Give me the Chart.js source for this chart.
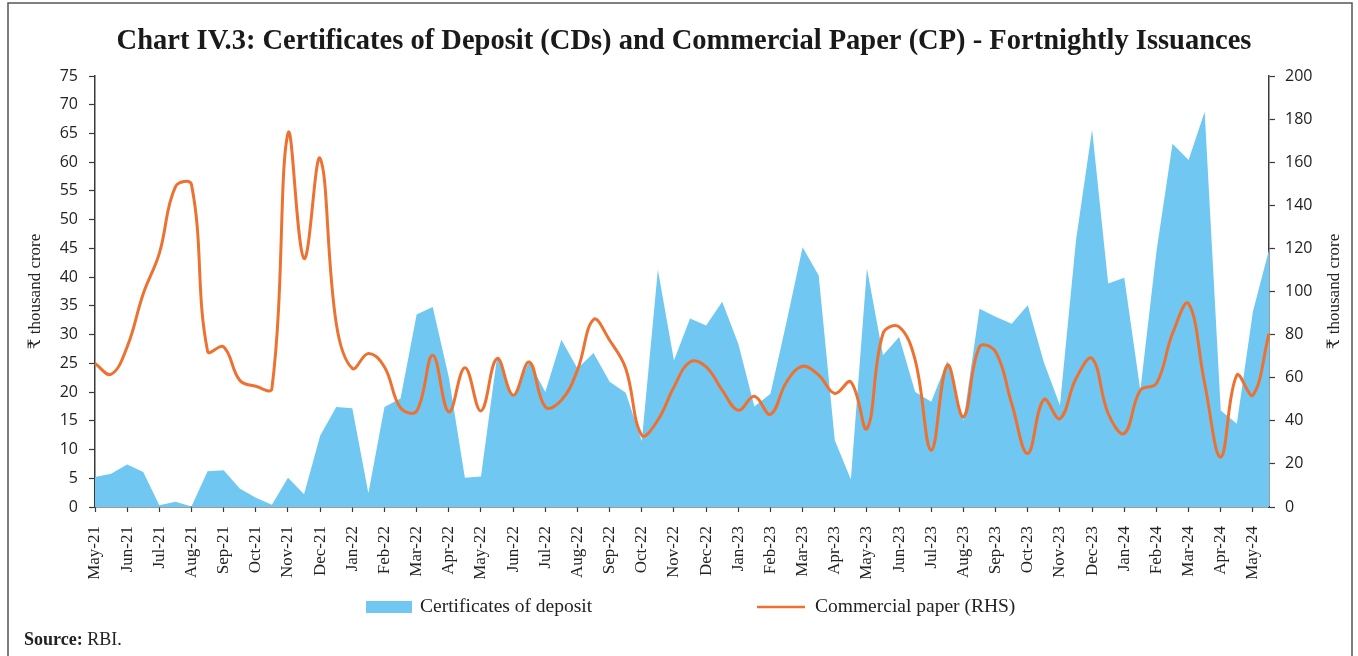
<!DOCTYPE html>
<html>
<head>
<meta charset="utf-8">
<script src="https://cdn.jsdelivr.net/npm/chart.js@4.4.1/dist/chart.umd.min.js"></script>
<style>
  html, body { margin: 0; padding: 0; background: #fff; overflow: hidden; }
  canvas { display: block; }
</style>
</head>
<body>
<canvas id="cdcp" width="1358" height="656"></canvas>
<script>
const monthTicks = ['May-21', 'Jun-21', 'Jul-21', 'Aug-21', 'Sep-21', 'Oct-21', 'Nov-21', 'Dec-21',
  'Jan-22', 'Feb-22', 'Mar-22', 'Apr-22', 'May-22', 'Jun-22', 'Jul-22', 'Aug-22', 'Sep-22', 'Oct-22',
  'Nov-22', 'Dec-22', 'Jan-23', 'Feb-23', 'Mar-23', 'Apr-23', 'May-23', 'Jun-23', 'Jul-23', 'Aug-23',
  'Sep-23', 'Oct-23', 'Nov-23', 'Dec-23', 'Jan-24', 'Feb-24', 'Mar-24', 'Apr-24', 'May-24'];

// two fortnights per month, month label goes on the first one
const fortnights = monthTicks.flatMap(m => [m, m + ' (2)']);

// ₹ thousand crore, left axis
const certificatesOfDeposit = [
  5.2, 5.8, 7.4, 6.1, 0.3, 0.9, 0.1, 6.2, 6.4, 3.2, 1.6, 0.4, 5.1, 2.2, 12.4, 17.4, 17.2, 2.4, 17.4,
  18.9, 33.5, 34.8, 22.6, 5.1, 5.3, 26.1, 19.2, 25.3, 20.0, 29.1, 24.1, 26.8, 21.8, 19.9, 11.5, 41.3, 25.5,
  32.8, 31.6, 35.7, 28.4, 17.5, 19.7, 32.2, 45.2, 40.3, 11.6, 4.8, 41.5, 26.4, 29.6, 20.0, 18.3, 25.4, 15.0,
  34.5, 33.1, 31.9, 35.1, 25.2, 17.7, 46.4, 65.7, 38.9, 39.9, 20.3, 44.4, 63.2, 60.4, 68.8, 16.8, 14.5, 34.0, 44.7
];

// ₹ thousand crore, right axis
const commercialPaper = [
  66.6, 61.6, 74.3, 99.0, 117.7, 148.6, 149.6, 72.3, 74.3, 58.8, 56.0, 55.0, 173.4, 115.3, 161.8, 85.2, 64.3, 71.2, 65.0,
  46.0, 44.5, 70.4, 44.1, 64.6, 44.6, 68.9, 51.9, 67.3, 46.4, 49.5, 63.5, 87.0, 77.4, 64.3, 33.3, 40.3, 55.7,
  67.3, 65.0, 54.2, 44.9, 51.4, 43.0, 58.0, 65.3, 61.2, 52.7, 58.0, 36.4, 80.5, 83.6, 68.1, 26.3, 65.8, 41.8,
  74.3, 72.0, 48.0, 24.8, 49.9, 41.0, 59.6, 68.9, 43.4, 34.1, 54.2, 57.3, 80.5, 94.4, 57.3, 23.2, 61.2, 51.9, 80.5
];

const leftTicks = { min: 0, max: 75, step: 5 };
const rightTicks = { min: 0, max: 200, step: 20 };

const SERIF = "'Liberation Serif', 'DejaVu Serif', serif";
const SANS = "'Open Sans', 'Noto Sans', sans-serif";
const CD_COLOR = '#70C7F1';
const CP_COLOR = '#ED7232';
const AXIS_COLOR = '#3a3a3a';
const TEXT_COLOR = '#222';

Chart.defaults.font.family = SERIF;
Chart.defaults.color = TEXT_COLOR;

// frame, right axis title, legend and source note
const extras = {
  id: 'extras',
  beforeDraw(chart) {
    const { ctx } = chart;
    ctx.save();
    ctx.strokeStyle = '#555';
    ctx.lineWidth = 1.5;
    ctx.beginPath();
    ctx.moveTo(8, 700);
    ctx.lineTo(8, 3);
    ctx.lineTo(1352, 3);
    ctx.lineTo(1352, 700);
    ctx.stroke();
    ctx.restore();
  },
  afterDraw(chart) {
    const { ctx, chartArea } = chart;
    ctx.save();
    ctx.fillStyle = TEXT_COLOR;

    // right axis title reads bottom to top like the left one
    ctx.font = '17px ' + SERIF;
    ctx.textAlign = 'center';
    ctx.textBaseline = 'middle';
    ctx.translate(1335, (chartArea.top + chartArea.bottom) / 2);
    ctx.rotate(-Math.PI / 2);
    ctx.fillText('₹ thousand crore', 0, 0);
    ctx.setTransform(1, 0, 0, 1, 0, 0);

    // legend
    const [cd, cp] = chart.data.datasets;
    const ly = 607;
    ctx.font = '19.5px ' + SERIF;
    ctx.textAlign = 'left';
    ctx.fillStyle = cd.backgroundColor;
    ctx.fillRect(366, ly - 6, 46, 12);
    ctx.fillStyle = TEXT_COLOR;
    ctx.fillText(cd.label, 420, ly);
    ctx.strokeStyle = cp.borderColor;
    ctx.lineWidth = 2.5;
    ctx.beginPath();
    ctx.moveTo(757, ly);
    ctx.lineTo(805, ly);
    ctx.stroke();
    ctx.fillText(cp.label, 815, ly);

    // source
    ctx.font = 'bold 18px ' + SERIF;
    ctx.fillText('Source:', 24, 640);
    const w = ctx.measureText('Source: ').width;
    ctx.font = '18px ' + SERIF;
    ctx.fillText('RBI.', 24 + w, 640);
    ctx.restore();
  }
};

new Chart(document.getElementById('cdcp'), {
  type: 'line',
  data: {
    labels: fortnights,
    datasets: [
      {
        label: 'Certificates of deposit',
        data: certificatesOfDeposit,
        yAxisID: 'y',
        backgroundColor: CD_COLOR,
        borderWidth: 0,
        fill: 'origin',
        pointRadius: 0,
        tension: 0,
        order: 2
      },
      {
        label: 'Commercial paper (RHS)',
        data: commercialPaper,
        yAxisID: 'y1',
        borderColor: CP_COLOR,
        borderWidth: 3,
        fill: false,
        pointRadius: 0,
        tension: 0.4,
        order: 1
      }
    ]
  },
  options: {
    responsive: false,
    animation: false,
    layout: { padding: { left: 10, right: 0, top: 0, bottom: 77 } },
    plugins: {
      legend: { display: false },
      tooltip: { enabled: false },
      title: {
        display: true,
        text: 'Chart IV.3: Certificates of Deposit (CDs) and Commercial Paper (CP) - Fortnightly Issuances',
        font: { family: SERIF, size: 28.5, weight: 'bold' },
        color: '#1a1a1a',
        padding: { top: 25, bottom: 16.8 }
      }
    },
    scales: {
      x: {
        offset: false,
        grid: {
          drawOnChartArea: false,
          tickLength: 5,
          tickWidth: 1.2,
          tickColor: c => (c.index % 2 ? 'rgba(0,0,0,0)' : AXIS_COLOR)
        },
        border: { color: AXIS_COLOR, width: 1.5 },
        ticks: {
          autoSkip: false,
          maxRotation: 90,
          minRotation: 90,
          padding: 14,
          font: { family: SERIF, size: 17 },
          color: TEXT_COLOR,
          callback: (v, i) => (i % 2 ? '' : monthTicks[i / 2])
        },
        afterFit: s => { s.height = 72; }
      },
      y: {
        position: 'left',
        min: leftTicks.min,
        max: leftTicks.max,
        grid: { drawOnChartArea: false, tickLength: 6, tickColor: AXIS_COLOR, tickWidth: 1.2 },
        border: { color: AXIS_COLOR, width: 1.5 },
        ticks: { stepSize: leftTicks.step, padding: 11, font: { family: SANS, size: 16 }, color: TEXT_COLOR },
        title: {
          display: true,
          text: '₹ thousand crore',
          font: { family: SERIF, size: 17 },
          color: TEXT_COLOR,
          padding: { top: 15, bottom: 0 }
        },
        afterFit: s => { s.width = 85; }
      },
      y1: {
        position: 'right',
        min: rightTicks.min,
        max: rightTicks.max,
        grid: { drawOnChartArea: false, tickLength: 6, tickColor: AXIS_COLOR, tickWidth: 1.2 },
        border: { color: AXIS_COLOR, width: 1.5 },
        ticks: { stepSize: rightTicks.step, padding: 10, font: { family: SANS, size: 16 }, color: TEXT_COLOR },
        afterFit: s => { s.width = 89; }
      }
    }
  },
  plugins: [extras]
});
</script>
</body>
</html>
